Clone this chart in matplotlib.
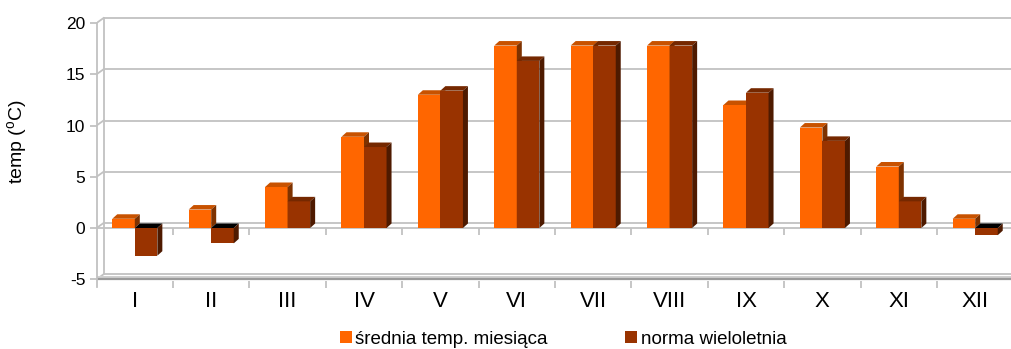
import matplotlib
matplotlib.use('Agg')
import matplotlib.pyplot as plt
from matplotlib.patches import Polygon, Patch

# ---- data ----
months = ['I', 'II', 'III', 'IV', 'V', 'VI', 'VII', 'VIII', 'IX', 'X', 'XI', 'XII']
srednia = [0.9, 1.8, 4.0, 8.9, 13.0, 17.8, 17.8, 17.8, 12.0, 9.8, 6.0, 0.9]
norma = [-2.7, -1.5, 2.6, 7.9, 13.4, 16.3, 17.8, 17.8, 13.2, 8.5, 2.6, -0.7]
series_names = ['średnia temp. miesiąca', 'norma wieloletnia']
yticks = [-5, 0, 5, 10, 15, 20]
ylabel = 'temp ($\\mathregular{^o}$C)'

plt.rcParams['font.family'] = ['Liberation Sans', 'DejaVu Sans']

W, H = 1011, 349
fig = plt.figure(figsize=(W / 100, H / 100), dpi=100)

# layout in pixels
x0_px, x1_px = 96.6, 1011
top_px, bot_px = 10, 290
ux, uy, zero_px = 76.4, 10.25, 228
ax = fig.add_axes([x0_px / W, 1 - bot_px / H, (x1_px - x0_px) / W, (bot_px - top_px) / H])
xmax = (x1_px - x0_px) / ux
ax.set_xlim(0, xmax)
ax.set_ylim((zero_px - bot_px) / uy, (zero_px - top_px) / uy)
for s in ax.spines.values():
    s.set_visible(False)

grid_c = '#c2c2c2'
lw = 1.3
wdx, wdy = 7 / ux, 5 / uy       # wall depth
bdx, bdy = 5 / ux, 4.5 / uy     # bar depth

# left (front) axis line and y ticks
ax.spines['left'].set_visible(True)
ax.spines['left'].set_color(grid_c)
ax.spines['left'].set_linewidth(lw)
ax.spines['left'].set_bounds(-5.76, 20)
ax.set_yticks(yticks)
ax.set_yticklabels([str(v) for v in yticks])
ax.tick_params(axis='y', length=5, width=lw, color=grid_c, labelsize=12.5, pad=3)

# back wall
ymin_v, ymax_v = min(yticks), max(yticks)
ax.plot([wdx, wdx], [ymin_v + wdy, ymax_v + wdy], color=grid_c, lw=lw, zorder=1)
for v in yticks:
    ax.plot([0, wdx], [v, v + wdy], color=grid_c, lw=lw, zorder=1)
    ax.plot([wdx, xmax], [v + wdy, v + wdy], color=grid_c, lw=lw, zorder=1)

# floor
ax.fill_between([0, xmax], [ymin_v, ymin_v], [ymin_v + wdy * 0.55] * 2,
                color='#d0d0d0', lw=0, zorder=1.5)
ax.plot([0, xmax], [ymin_v, ymin_v], color='#9a9a9a', lw=1.6, zorder=1.6)

# front x axis at zero
ax.plot([0, xmax], [0, 0], color=grid_c, lw=lw, zorder=2)
bounds = list(range(1, len(months) + 1))
ax.vlines(bounds, 0, -7 / uy, color=grid_c, lw=lw, zorder=2)
ax.vlines(bounds, ymin_v - 2 / uy, ymin_v - 9 / uy, color=grid_c, lw=lw, zorder=2)

# x tick labels
centers = [i + 0.5 for i in range(len(months))]
ax.set_xticks(centers)
ax.set_xticklabels(months)
ax.tick_params(axis='x', length=0, labelsize=16, pad=0.5)

# bars
bw = 0.295
styles = [
    dict(front='#ff6600', top='#c85200', side='#7e3200', ntop='#000000'),
    dict(front='#993300', top='#752800', side='#4e1a00', ntop='#000000'),
]
for si, (vals, st) in enumerate(zip([srednia, norma], styles)):
    xs = [c - bw if si == 0 else c for c in centers]
    bars = ax.bar(xs, vals, width=bw, align='edge', color=st['front'],
                  lw=0, zorder=3 + si * 0.01)
    for k, b in enumerate(bars):
        bx, bwid, bh = b.get_x(), b.get_width(), b.get_height()
        ytop = max(bh, 0)
        ybot = min(bh, 0)
        z = 3 + k + si * 0.5
        b.set_zorder(z)
        topc = st['top'] if bh >= 0 else st['ntop']
        ax.add_patch(Polygon([(bx, ytop), (bx + bwid, ytop), (bx + bwid + bdx, ytop + bdy),
                              (bx + bdx, ytop + bdy)], closed=True, fc=topc, lw=0, zorder=z))
        ax.add_patch(Polygon([(bx + bwid, ybot), (bx + bwid, ytop), (bx + bwid + bdx, ytop + bdy),
                              (bx + bwid + bdx, ybot + bdy)], closed=True, fc=st['side'], lw=0, zorder=z))

# y label
fig.text(17 / W, 1 - 142 / H, ylabel, rotation=90, ha='center', va='center', fontsize=14)

# legend
handles = [Patch(fc=styles[0]['front'], lw=0), Patch(fc=styles[1]['front'], lw=0)]
fig.legend(handles, series_names, loc='center', bbox_to_anchor=(563 / W, 1 - 339 / H),
           ncol=2, frameon=False, fontsize=13.5, handlelength=0.64, handleheight=0.64,
           handletextpad=0.21, columnspacing=4.1, borderaxespad=0, borderpad=0)

fig.savefig('out.png', dpi=100)
